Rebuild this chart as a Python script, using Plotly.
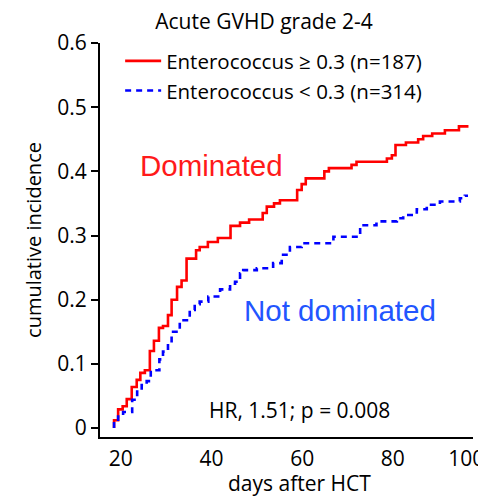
import plotly.graph_objects as go

# Data (days after HCT, cumulative incidence)
red_days = [18.5, 18.5, 19.4, 20.4, 21.3, 22.4, 23.5, 24.3, 25.3, 26.4, 27.3, 28.4, 29.3,
            30.4, 31.2, 32.4, 33.4, 34.5, 36.6, 37.4, 39.2, 41.4, 44.2, 46.3, 48.3, 51.3,
            52.2, 53.8, 55.1, 58.9, 59.9, 60.8, 64.9, 65.9, 70.9, 72.0, 78.7, 79.8, 80.6,
            82.9, 85.6, 86.7, 88.7, 91.5, 94.6, 96.7]
red_ci = [0.0, 0.012, 0.029, 0.034, 0.045, 0.064, 0.075, 0.086, 0.09, 0.12, 0.136, 0.156, 0.159,
          0.176, 0.2, 0.22, 0.23, 0.264, 0.277, 0.282, 0.29, 0.296, 0.315, 0.32, 0.325, 0.335,
          0.345, 0.35, 0.355, 0.371, 0.38, 0.389, 0.4, 0.405, 0.41, 0.415, 0.42, 0.425, 0.441,
          0.445, 0.45, 0.455, 0.459, 0.464, 0.47, 0.47]

blue_days = [18.5, 18.5, 19.4, 20.5, 22.5, 23.6, 24.6, 25.7, 26.6, 28.5, 29.3, 30.4, 31.2,
             33.0, 35.2, 36.3, 37.4, 39.3, 41.9, 44.1, 45.2, 46.3, 47.0, 50.0, 53.6, 55.5,
             57.3, 59.9, 66.9, 72.8, 76.4, 80.9, 82.3, 85.3, 87.5, 90.4, 94.8, 95.9, 96.6]
blue_ci = [0.0, 0.01, 0.018, 0.025, 0.044, 0.057, 0.067, 0.073, 0.09, 0.107, 0.119, 0.132, 0.15,
           0.168, 0.184, 0.193, 0.197, 0.205, 0.216, 0.225, 0.228, 0.241, 0.246, 0.249, 0.257,
           0.27, 0.282, 0.288, 0.298, 0.316, 0.322, 0.327, 0.332, 0.341, 0.348, 0.353, 0.358,
           0.362, 0.362]

x_tick_vals = [20, 40, 60, 80, 96.2]
x_tick_text = ["20", "40", "60", "80", "100"]
y_tick_vals = [0, 0.1, 0.2, 0.3, 0.4, 0.5, 0.6]
y_tick_text = ["0", "0.1", "0.2", "0.3", "0.4", "0.5", "0.6"]

FONT = "Open Sans"

fig = go.Figure()
fig.add_trace(go.Scatter(x=red_days, y=red_ci, mode="lines", line_shape="hv",
                         line=dict(color="#ff0000", width=2.6),
                         name="Enterococcus \u2265 0.3 (n=187)"))
fig.add_trace(go.Scatter(x=blue_days, y=blue_ci, mode="lines", line_shape="hv",
                         line=dict(color="#0000ff", width=2.6, dash="6px,5px"),
                         name="Enterococcus < 0.3 (n=314)"))

fig.update_layout(
    width=486, height=496,
    margin=dict(l=92, r=21, t=35, b=67),
    plot_bgcolor="white", paper_bgcolor="white",
    font=dict(family=FONT, size=20, color="black"),
    showlegend=True,
    legend=dict(x=0.054, y=1.005, xanchor="left", yanchor="top",
                bgcolor="rgba(0,0,0,0)", font=dict(size=20.5, family=FONT),
                tracegroupgap=0, itemwidth=36),
    title=dict(text="Acute GVHD grade 2-4", x=256/486, xanchor="center",
               yref="container", y=1 - 14/496, yanchor="middle",
               font=dict(size=21, family=FONT)),
    xaxis=dict(range=[15.4, 97.7], tickvals=x_tick_vals, ticktext=x_tick_text,
               showline=True, linecolor="black", linewidth=2, ticks="outside",
               ticklen=2, tickcolor="rgba(0,0,0,0)", automargin=False,
               showgrid=False, zeroline=False, tickfont=dict(size=21)),
    yaxis=dict(range=[-0.014, 0.6], tickvals=y_tick_vals, ticktext=y_tick_text,
               showline=True, linecolor="black", linewidth=2, ticks="outside",
               ticklen=7, tickwidth=2, tickcolor="black", automargin=False,
               showgrid=False, zeroline=False, tickfont=dict(size=21),
               title=dict(text="cumulative incidence", font=dict(size=20), standoff=10)),
    annotations=[
        dict(text="days after HCT", x=0.536, y=-0.117, xref="paper", yref="paper",
             xanchor="center", yanchor="middle", showarrow=False,
             font=dict(size=21, color="black", family=FONT)),
        dict(text="Dominated", x=0.30, y=0.69, xref="paper", yref="paper",
             xanchor="center", yanchor="middle", showarrow=False,
             font=dict(size=29.5, color="#ff1a1a", family="Liberation Sans")),
        dict(text="Not dominated", x=0.643, y=0.322, xref="paper", yref="paper",
             xanchor="center", yanchor="middle", showarrow=False,
             font=dict(size=29.5, color="#2255ff", family="Liberation Sans")),
        dict(text="HR, 1.51; p = 0.008", x=0.536, y=0.069, xref="paper", yref="paper",
             xanchor="center", yanchor="middle", showarrow=False,
             font=dict(size=21, color="black", family=FONT)),
    ],
)

fig.write_html("out.html")
